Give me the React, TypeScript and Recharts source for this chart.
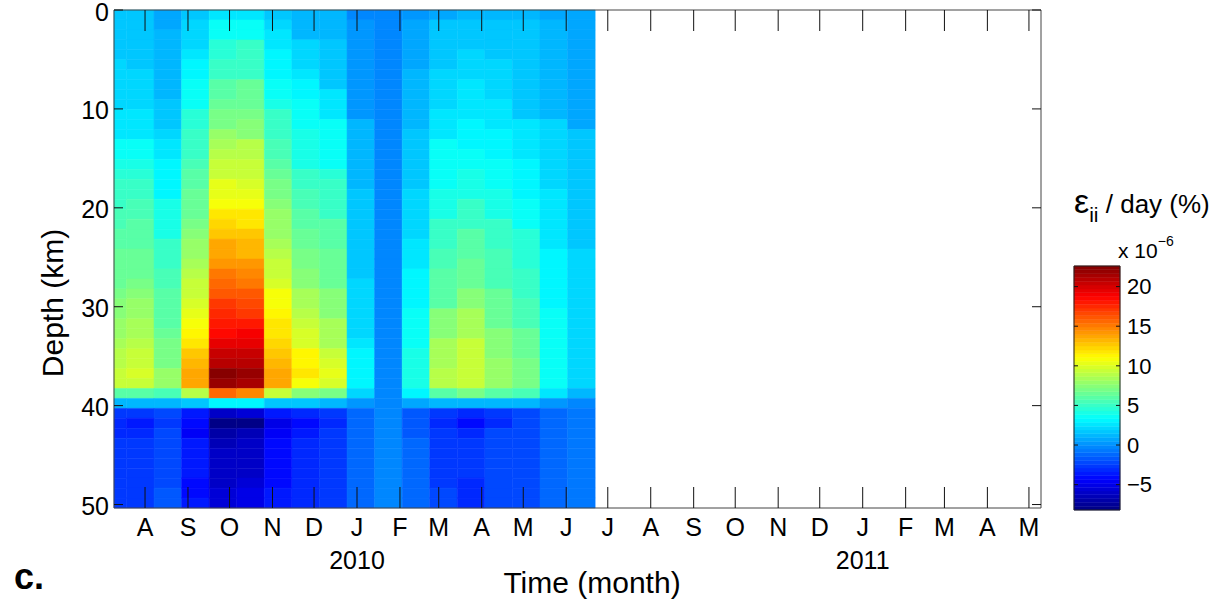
import React from 'react';
import { ComposedChart, XAxis, YAxis, ReferenceArea, Scatter } from 'recharts';

const FONT = "'Liberation Sans', Arial, Helvetica, sans-serif";

// ---- axes (time in days since 1 Aug 2009, depth in km) ----
const timeDomain = [-22.4, 646.7];
const monthTickDays = [0, 31, 61, 92, 122, 153, 184, 212, 243, 273, 304, 334, 365, 396, 426, 457, 487, 518, 549, 577, 608, 638];
const monthLabels = ['A', 'S', 'O', 'N', 'D', 'J', 'F', 'M', 'A', 'M', 'J', 'J', 'A', 'S', 'O', 'N', 'D', 'J', 'F', 'M', 'A', 'M'];
const yearTickDays = [153, 518];
const yearLabels = ['2010', '2011'];
const depthDomain = [0, 50.35];
const depthTicks = [0, 10, 20, 30, 40, 50];
const ROWS = 50;

// colour scale (x 10^-6)
const colorLimits = [-8.2, 22.6];
const colorbarTicks = [-5, 0, 5, 10, 15, 20];
const colorbarLabels = ['\u22125', '0', '5', '10', '15', '20'];

// sample windows (left edges, days) and last right edge
const sampleEdges = [-22.4, -13.4, 6.5, 26.4, 46.3, 66.2, 86.1, 106.0, 125.9, 145.8, 165.7, 185.6, 205.5, 225.4, 245.3, 265.2, 285.1, 305.0, 324.9];

// strain-rate profiles, one value per 1-km depth cell (top to bottom)
const s01 = [1.5, 1.5, 1.8, 1.8, 1.8, 2.0, 2.0, 2.1, 2.1, 2.3, 2.6, 2.7, 2.8, 3.4, 3.5, 4.0, 4.4, 4.8, 5.0, 5.2, 5.3, 5.6, 5.8, 6.0, 6.3, 6.5, 6.5, 6.7, 7.2, 7.4, 7.6, 7.9, 8.0, 8.3, 8.8, 9.0, 9.6, 9.4, 6.2, 1.2, -2.7, -3.2, -3.0, -2.7, -2.7, -2.7, -2.7, -2.7, -2.6, -2.6];
const s02 = [1.6, 1.6, 1.8, 1.8, 1.9, 1.9, 2.0, 2.0, 2.1, 2.2, 2.5, 2.7, 2.8, 3.4, 3.6, 4.1, 4.6, 4.9, 5.2, 5.3, 5.4, 5.8, 6.0, 6.1, 6.4, 6.5, 6.6, 6.8, 7.5, 7.7, 8.1, 8.3, 8.4, 8.8, 9.2, 9.3, 9.9, 9.6, 6.2, 1.3, -2.7, -3.6, -3.2, -2.7, -2.6, -2.6, -2.6, -2.6, -2.7, -2.7];
const s03 = [0.6, 0.7, 1.0, 1.0, 1.0, 1.0, 1.1, 1.1, 1.2, 1.5, 1.5, 1.6, 2.2, 2.4, 2.6, 2.9, 3.1, 3.2, 3.3, 3.9, 4.1, 4.2, 4.3, 4.8, 5.1, 5.2, 5.3, 5.5, 5.8, 5.9, 6.0, 6.2, 6.6, 6.8, 6.9, 7.1, 7.8, 7.8, 5.6, 1.3, -2.1, -2.7, -2.4, -2.4, -2.4, -2.4, -2.3, -2.2, -1.9, -1.8];
const s04 = [1.5, 2.0, 2.1, 2.2, 2.8, 2.9, 3.0, 3.5, 3.6, 3.8, 4.4, 4.6, 4.8, 5.0, 5.1, 5.3, 5.8, 6.0, 6.4, 6.5, 6.7, 7.2, 7.4, 7.7, 8.1, 8.4, 8.9, 9.2, 9.4, 9.9, 10.1, 10.8, 11.5, 12.0, 12.5, 13.1, 13.6, 13.6, 8.7, 1.8, -3.6, -4.2, -4.4, -3.7, -3.6, -3.6, -3.6, -3.9, -3.9, -3.8];
const s05 = [2.8, 3.4, 3.6, 4.4, 4.6, 4.8, 5.0, 6.0, 6.2, 6.5, 6.8, 7.0, 7.8, 8.2, 8.9, 9.3, 9.5, 10.1, 10.4, 10.9, 11.6, 12.1, 12.5, 13.5, 13.8, 14.4, 15.0, 15.6, 16.3, 16.9, 17.5, 18.0, 18.6, 19.6, 20.2, 21.1, 22.2, 22.0, 15.6, 3.2, -5.9, -8.1, -7.0, -6.3, -6.2, -6.2, -6.1, -6.0, -5.6, -5.4];
const s06 = [2.8, 3.6, 3.8, 4.8, 5.0, 5.0, 5.2, 6.3, 6.5, 6.6, 7.2, 7.4, 7.6, 8.8, 9.0, 9.2, 9.6, 10.0, 10.2, 10.9, 11.6, 12.0, 12.5, 13.1, 13.3, 14.1, 14.7, 15.3, 16.0, 16.6, 17.2, 17.8, 19.0, 19.7, 20.3, 21.1, 21.7, 21.6, 14.7, 3.2, -5.6, -7.8, -6.6, -6.0, -5.9, -5.9, -5.9, -5.5, -5.3, -5.3];
const s07 = [1.8, 2.3, 2.4, 2.5, 3.1, 3.2, 3.3, 3.7, 3.8, 3.9, 4.8, 5.0, 5.2, 5.5, 5.6, 5.8, 6.6, 6.8, 7.0, 7.5, 7.7, 7.8, 8.0, 8.5, 8.9, 9.2, 9.3, 9.8, 10.6, 10.9, 11.4, 11.6, 11.8, 12.4, 12.6, 13.3, 13.5, 13.5, 9.2, 1.8, -3.6, -5.0, -4.7, -4.0, -3.9, -3.9, -3.9, -3.9, -3.8, -3.8];
const s08 = [1.2, 1.2, 1.3, 2.0, 2.1, 2.2, 2.8, 2.9, 3.0, 3.5, 3.6, 3.8, 4.0, 4.1, 4.2, 4.3, 5.1, 5.2, 5.3, 5.4, 6.1, 6.2, 6.3, 6.4, 7.0, 7.2, 7.3, 7.4, 8.4, 8.6, 8.7, 9.6, 9.8, 10.0, 11.2, 11.3, 11.6, 10.9, 7.6, 1.6, -3.2, -3.9, -3.5, -3.0, -3.0, -3.0, -3.0, -3.0, -3.1, -3.1];
const s09 = [1.2, 1.2, 1.3, 1.7, 1.8, 1.8, 1.9, 1.9, 2.6, 2.7, 2.8, 3.4, 3.5, 3.6, 3.6, 3.8, 4.6, 4.9, 5.0, 5.0, 5.1, 5.8, 5.9, 6.0, 6.4, 6.5, 6.6, 6.6, 7.3, 7.4, 7.5, 8.2, 8.3, 8.4, 9.6, 9.8, 10.2, 10.0, 6.8, 1.2, -2.7, -3.3, -2.9, -2.9, -2.9, -2.9, -2.9, -2.8, -2.8, -2.8];
const s10 = [-0.2, 0.0, 0.0, 0.0, 0.0, 0.1, 0.2, 0.2, 0.2, 0.3, 0.3, 1.0, 1.1, 1.1, 1.1, 1.2, 1.2, 1.2, 1.8, 1.8, 1.8, 1.8, 1.8, 1.8, 1.8, 1.9, 1.9, 2.1, 2.1, 2.1, 2.2, 2.2, 2.2, 2.6, 3.1, 3.1, 3.1, 3.1, 2.0, 0.2, -1.2, -1.2, -1.2, -1.2, -1.2, -1.2, -1.0, -1.0, -1.0, -1.0];
const s11 = [-0.2, -0.1, -0.1, -0.1, -0.1, -0.1, -0.1, -0.1, -0.1, -0.1, -0.1, -0.1, -0.1, -0.1, -0.1, -0.1, -0.1, -0.1, -0.1, -0.1, -0.1, -0.1, -0.1, -0.1, -0.1, -0.1, -0.1, -0.1, -0.1, -0.1, -0.1, -0.1, -0.1, -0.1, -0.1, -0.1, -0.1, -0.1, -0.1, -0.2, -0.3, -0.3, -0.3, -0.3, -0.3, -0.3, -0.3, -0.3, -0.3, -0.3];
const s12 = [0.0, 0.6, 0.6, 0.6, 0.6, 0.6, 1.0, 1.0, 1.0, 1.0, 1.0, 1.0, 1.5, 1.5, 1.5, 1.5, 1.5, 1.5, 2.1, 2.1, 2.1, 2.1, 2.1, 2.5, 2.5, 2.5, 3.1, 3.1, 3.1, 3.1, 3.7, 3.7, 3.7, 3.7, 4.2, 4.2, 4.2, 4.2, 3.2, 0.8, -1.5, -1.5, -1.5, -1.0, -1.0, -1.0, -1.0, -1.0, -1.2, -1.2];
const s13 = [0.6, 1.5, 1.5, 1.5, 1.5, 1.5, 2.1, 2.1, 2.1, 2.1, 2.7, 2.7, 2.7, 3.5, 3.5, 3.5, 3.5, 3.5, 4.2, 4.2, 4.2, 5.0, 5.0, 5.0, 5.5, 5.5, 6.2, 6.2, 6.2, 6.2, 7.3, 7.3, 7.3, 8.3, 8.3, 8.3, 9.0, 9.0, 6.2, 1.2, -2.6, -3.3, -2.7, -2.7, -2.7, -2.7, -2.7, -2.7, -2.1, -2.1];
const s14 = [1.2, 1.5, 1.5, 1.5, 2.1, 2.1, 2.1, 2.7, 2.7, 2.7, 2.7, 3.2, 3.2, 3.2, 3.5, 3.6, 4.2, 4.2, 4.2, 5.0, 5.0, 5.0, 5.9, 5.9, 5.8, 6.5, 6.5, 6.5, 7.4, 7.4, 8.3, 8.3, 8.3, 9.2, 9.2, 9.2, 9.5, 9.5, 6.8, 1.3, -3.3, -3.9, -3.3, -2.7, -2.7, -2.7, -2.7, -3.0, -3.0, -3.0];
const s15 = [1.2, 1.5, 1.5, 1.5, 1.5, 2.0, 2.0, 2.0, 2.0, 2.4, 2.4, 2.4, 3.2, 3.2, 3.2, 3.5, 3.5, 3.5, 4.2, 4.2, 4.2, 5.0, 5.0, 5.0, 5.4, 5.4, 5.4, 5.4, 6.5, 6.5, 6.5, 6.5, 7.4, 7.4, 7.4, 8.0, 8.0, 8.0, 6.2, 1.3, -2.7, -3.0, -2.4, -2.4, -2.4, -2.4, -2.1, -2.1, -2.1, -2.1];
const s16 = [1.2, 1.5, 1.5, 1.5, 1.5, 1.8, 1.8, 1.8, 1.8, 1.8, 1.8, 2.6, 2.6, 2.6, 2.6, 3.2, 3.2, 3.2, 3.2, 3.8, 3.8, 3.8, 4.6, 4.6, 4.6, 4.6, 5.0, 5.0, 5.0, 5.6, 5.6, 5.6, 6.5, 6.5, 6.5, 7.1, 7.1, 7.1, 5.6, 1.0, -2.1, -2.1, -2.1, -2.4, -2.4, -2.4, -2.4, -2.1, -2.1, -2.1];
const s17 = [0.6, 1.2, 1.2, 1.2, 1.2, 1.2, 1.2, 1.2, 1.2, 1.2, 1.2, 2.0, 2.0, 2.0, 2.0, 2.1, 2.1, 2.1, 2.7, 2.7, 2.7, 2.7, 2.7, 2.7, 3.2, 3.2, 3.2, 3.2, 3.2, 3.2, 3.5, 3.5, 3.5, 3.5, 3.5, 3.8, 3.8, 3.8, 2.8, 0.3, -1.2, -1.2, -1.2, -1.2, -1.2, -1.2, -1.2, -1.2, -1.2, -1.2];
const s18 = [0.9, 0.9, 0.9, 0.9, 0.9, 0.9, 0.9, 0.9, 0.9, 0.9, 0.9, 0.9, 1.8, 1.8, 1.8, 1.9, 1.9, 1.9, 1.9, 1.9, 1.9, 1.9, 1.9, 1.9, 2.0, 2.0, 2.0, 2.0, 2.0, 2.0, 2.0, 2.0, 2.0, 2.0, 2.0, 2.0, 2.0, 2.0, 1.3, -0.2, -0.6, -0.6, -0.6, -0.6, -0.6, -0.6, -0.6, -0.6, -0.6, -0.6];

const profiles = [s01, s02, s03, s04, s05, s06, s07, s08, s09, s10, s11, s12, s13, s14, s15, s16, s17, s18];

// ---- jet colour map (64 levels) ----
const N_LEVELS = 64;
const clamp01 = (v: number) => Math.max(0, Math.min(1, v));
function jetRGB(t: number): string {
  const r = clamp01(1.5 - Math.abs(4 * t - 3));
  const g = clamp01(1.5 - Math.abs(4 * t - 2));
  const b = clamp01(1.5 - Math.abs(4 * t - 1));
  return `rgb(${Math.round(r * 255)},${Math.round(g * 255)},${Math.round(b * 255)})`;
}
function colorFor(v: number): string {
  const t = (v - colorLimits[0]) / (colorLimits[1] - colorLimits[0]);
  const idx = Math.max(0, Math.min(N_LEVELS - 1, Math.floor(t * N_LEVELS)));
  return jetRGB((idx + 0.5) / N_LEVELS);
}

const rowKm = (depthDomain[1] - depthDomain[0]) / ROWS;

type Cell = { x: number; y: number; x1: number; x2: number; y1: number; y2: number; color: string };
const cells: Cell[] = [];
profiles.forEach((prof, c) => {
  prof.forEach((v, r) => {
    const x1 = sampleEdges[c];
    const x2 = sampleEdges[c + 1];
    const y1 = r * rowKm;
    const y2 = (r + 1) * rowKm;
    cells.push({ x: (x1 + x2) / 2, y: (y1 + y2) / 2, x1, x2, y1, y2, color: colorFor(v) });
  });
});

const bands = Array.from({ length: 64 }, (_, i) => {
  const span = colorLimits[1] - colorLimits[0];
  const y1 = colorLimits[0] + (i * span) / N_LEVELS;
  const y2 = colorLimits[0] + ((i + 1) * span) / N_LEVELS;
  return { x: 0.5, y: (y1 + y2) / 2, x1: 0, x2: 1, y1, y2, color: jetRGB((i + 0.5) / N_LEVELS) };
});

const TICK = '#111';
const AXIS = '#444';

const BottomTick = (props: any) => {
  const { x, y, index } = props;
  const yi = yearTickDays.indexOf(monthTickDays[index]);
  return (
    <g>
      <line x1={x} y1={y} x2={x} y2={y - 21} stroke={TICK} strokeWidth={1} />
      <text x={x} y={y + 28} textAnchor="middle" fontSize={25} fontFamily={FONT} fill="#000">
        {monthLabels[index]}
      </text>
      {yi >= 0 && (
        <text x={x} y={y + 61} textAnchor="middle" fontSize={25} fontFamily={FONT} fill="#000">
          {yearLabels[yi]}
        </text>
      )}
    </g>
  );
};

const TopTick = (props: any) => {
  const { x, y } = props;
  return <line x1={x} y1={y} x2={x} y2={y + 21} stroke={TICK} strokeWidth={1} />;
};

const LeftTick = (props: any) => {
  const { x, y, index } = props;
  return (
    <g>
      <line x1={x} y1={y} x2={x + 9} y2={y} stroke={TICK} strokeWidth={1} />
      <text x={x - 5} y={y + 10.5} textAnchor="end" fontSize={25} fontFamily={FONT} fill="#000">
        {depthTicks[index]}
      </text>
    </g>
  );
};

const RightTick = (props: any) => {
  const { x, y } = props;
  return <line x1={x} y1={y} x2={x - 9} y2={y} stroke={TICK} strokeWidth={1} />;
};

const CbRightTick = (props: any) => {
  const { x, y, index } = props;
  return (
    <g>
      <line x1={x} y1={y} x2={x - 4} y2={y} stroke={TICK} strokeWidth={1} />
      <text x={x + 7} y={y + 7.7} textAnchor="start" fontSize={22} fontFamily={FONT} fill="#000">
        {colorbarLabels[index]}
      </text>
    </g>
  );
};

const CbLeftTick = (props: any) => {
  const { x, y } = props;
  return <line x1={x} y1={y} x2={x + 4} y2={y} stroke={TICK} strokeWidth={1} />;
};

export default function App() {
  return (
    <div style={{ position: 'absolute', left: 0, top: 0, width: 1223, height: 608, background: '#fff', fontFamily: FONT }}>
      <div style={{ position: 'absolute', left: 0, top: 0 }}>
        <ComposedChart width={1223} height={608} data={cells} margin={{ top: 9, right: 181, bottom: 99, left: 113 }}>
          <XAxis
            xAxisId="b"
            dataKey="x"
            type="number"
            domain={timeDomain}
            allowDataOverflow
            ticks={monthTickDays}
            interval={0}
            height={1}
            tickSize={0}
            tickMargin={0}
            tickLine={false}
            axisLine={{ stroke: AXIS, strokeWidth: 1 }}
            tick={(p: any) => <BottomTick {...p} />}
            orientation="bottom"
          />
          <XAxis
            xAxisId="t"
            dataKey="x"
            type="number"
            domain={timeDomain}
            allowDataOverflow
            ticks={monthTickDays}
            interval={0}
            height={1}
            tickSize={0}
            tickMargin={0}
            tickLine={false}
            axisLine={{ stroke: AXIS, strokeWidth: 1 }}
            tick={(p: any) => <TopTick {...p} />}
            orientation="top"
          />
          <YAxis
            yAxisId="l"
            dataKey="y"
            type="number"
            domain={depthDomain}
            allowDataOverflow
            reversed
            ticks={depthTicks}
            interval={0}
            width={1}
            tickSize={0}
            tickMargin={0}
            tickLine={false}
            axisLine={{ stroke: AXIS, strokeWidth: 1 }}
            tick={(p: any) => <LeftTick {...p} />}
            orientation="left"
          />
          <YAxis
            yAxisId="r"
            dataKey="y"
            type="number"
            domain={depthDomain}
            allowDataOverflow
            reversed
            ticks={depthTicks}
            interval={0}
            width={1}
            tickSize={0}
            tickMargin={0}
            tickLine={false}
            axisLine={{ stroke: AXIS, strokeWidth: 1 }}
            tick={(p: any) => <RightTick {...p} />}
            orientation="right"
          />
          {cells.map((c, i) => (
            <ReferenceArea
              key={`cell${i}`}
              xAxisId="b"
              yAxisId="l"
              x1={c.x1}
              x2={c.x2}
              y1={c.y1}
              y2={c.y2}
              fill={c.color}
              fillOpacity={1}
              stroke={c.color}
              strokeWidth={0.5}
              ifOverflow="visible"
            />
          ))}
          <Scatter xAxisId="b" yAxisId="l" dataKey="y" data={cells} isAnimationActive={false} shape={() => <g />} />
        </ComposedChart>
      </div>

      <div style={{ position: 'absolute', left: 1040, top: 240 }}>
        <ComposedChart width={183} height={300} data={bands} margin={{ top: 26, right: 102, bottom: 30, left: 33 }}>
          <XAxis xAxisId="cb" dataKey="x" type="number" domain={[0, 1]} allowDataOverflow hide />
          <YAxis
            yAxisId="cbl"
            dataKey="y"
            type="number"
            domain={colorLimits}
            allowDataOverflow
            ticks={colorbarTicks}
            interval={0}
            width={1}
            tickSize={0}
            tickMargin={0}
            tickLine={false}
            axisLine={false}
            tick={(p: any) => <CbLeftTick {...p} />}
            orientation="left"
          />
          <YAxis
            yAxisId="cbr"
            dataKey="y"
            type="number"
            domain={colorLimits}
            allowDataOverflow
            ticks={colorbarTicks}
            interval={0}
            width={1}
            tickSize={0}
            tickMargin={0}
            tickLine={false}
            axisLine={false}
            tick={(p: any) => <CbRightTick {...p} />}
            orientation="right"
          />
          {bands.map((b, i) => (
            <ReferenceArea
              key={`band${i}`}
              xAxisId="cb"
              yAxisId="cbl"
              x1={b.x1}
              x2={b.x2}
              y1={b.y1}
              y2={b.y2}
              fill={b.color}
              fillOpacity={1}
              stroke={b.color}
              strokeWidth={0.5}
              ifOverflow="visible"
            />
          ))}
          <ReferenceArea
            xAxisId="cb"
            yAxisId="cbl"
            x1={0}
            x2={1}
            y1={colorLimits[0]}
            y2={colorLimits[1]}
            fill="none"
            fillOpacity={0}
            stroke="#222"
            strokeWidth={1}
            ifOverflow="visible"
          />
          <Scatter xAxisId="cb" yAxisId="cbl" dataKey="y" data={bands} isAnimationActive={false} shape={() => <g />} />
        </ComposedChart>
      </div>

      <svg width={1223} height={608} style={{ position: 'absolute', left: 0, top: 0, pointerEvents: 'none' }}>
        <text transform="translate(63,303) rotate(-90)" textAnchor="middle" fontSize={30} fontFamily={FONT} fill="#000">
          Depth (km)
        </text>
        <text x={592} y={593} textAnchor="middle" fontSize={30} fontFamily={FONT} fill="#000">
          Time (month)
        </text>
        <text x={14} y={589} fontSize={36} fontWeight="bold" fontFamily={FONT} fill="#000">
          c.
        </text>
        <text x={1074} y={213} fontSize={26} fontFamily={FONT} fill="#000">
          <tspan fontSize={34}>ε</tspan>
          <tspan fontSize={21} dy={9}>ii</tspan>
          <tspan dy={-9}> / day (%)</tspan>
        </text>
        <text x={1118} y={258} fontSize={21} fontFamily={FONT} fill="#000">
          x 10<tspan fontSize={14} dy={-12}>{'\u22126'}</tspan>
        </text>
      </svg>
    </div>
  );
}
